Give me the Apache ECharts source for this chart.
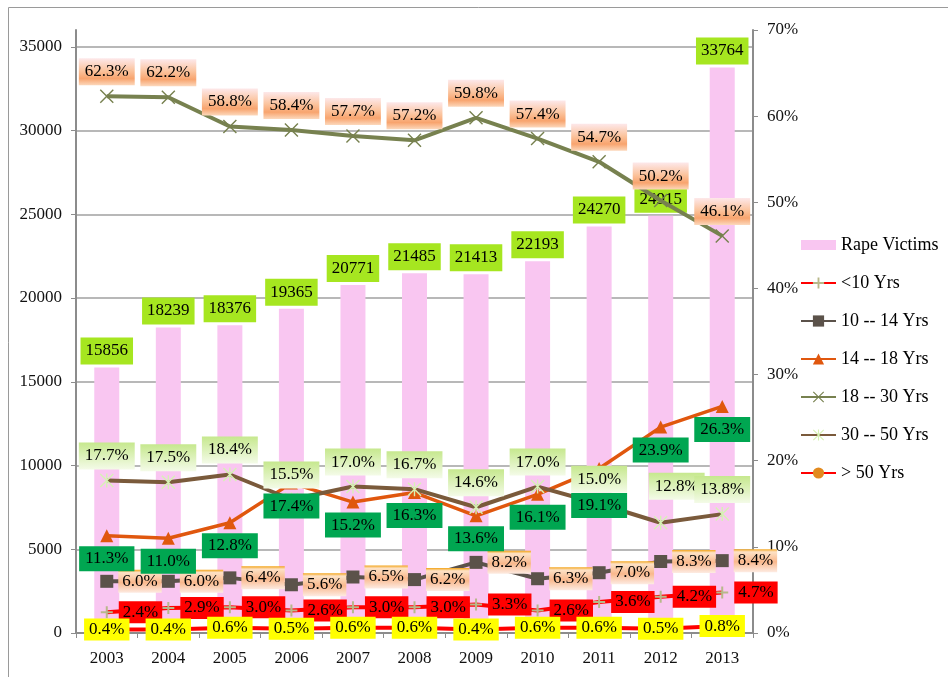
<!DOCTYPE html>
<html>
<head>
<meta charset="utf-8">
<style>
  html, body { margin: 0; padding: 0; background: #fff; }
  #chart-container { width: 948px; height: 677px; }
</style>
<script src="https://cdn.jsdelivr.net/npm/echarts@6/dist/echarts.min.js"></script>
</head>
<body>
<div id="chart-container"></div>
<script>
var years = ["2003", "2004", "2005", "2006", "2007", "2008", "2009", "2010", "2011", "2012", "2013"];
var rapeVictims = [15856, 18239, 18376, 19365, 20771, 21485, 21413, 22193, 24270, 24915, 33764];
var under10 = [2.4, 2.9, 3.0, 2.6, 3.0, 3.0, 3.3, 2.6, 3.6, 4.2, 4.7];
var age10to14 = [6.0, 6.0, 6.4, 5.6, 6.5, 6.2, 8.2, 6.3, 7.0, 8.3, 8.4];
var age14to18 = [11.3, 11.0, 12.8, 17.4, 15.2, 16.3, 13.6, 16.1, 19.1, 23.9, 26.3];
var age18to30 = [62.3, 62.2, 58.8, 58.4, 57.7, 57.2, 59.8, 57.4, 54.7, 50.2, 46.1];
var age30to50 = [17.7, 17.5, 18.4, 15.5, 17.0, 16.7, 14.6, 17.0, 15.0, 12.8, 13.8];
var over50 = [0.4, 0.4, 0.6, 0.5, 0.6, 0.6, 0.4, 0.6, 0.6, 0.5, 0.8];

var FONT = "'Liberation Serif', 'Times New Roman', serif";

// a few labels were nudged by hand in the original
function withOffsets(values, offsets) {
  return values.map(function (v, i) {
    return offsets[i] ? { value: v, label: { offset: offsets[i] } } : v;
  });
}

function pct(p) {
  return p.value.toFixed(1) + "%";
}

function grad(stops) {
  return new echarts.graphic.LinearGradient(0, 0, 0, 1, stops.map(function (s) {
    return { offset: s[0], color: s[1] };
  }));
}

var peachBg = grad([[0, "#fde8ea"], [0.45, "#fbc49e"], [0.75, "#f8a46e"], [1, "#fcd8bc"]]);
var peachTopBg = grad([[0, "#f3a51c"], [0.12, "#fde2c6"], [0.55, "#f9b88c"], [1, "#fdebe2"]]);
var lightGreenBg = grad([[0, "#c6e88e"], [1, "#f4fbe8"]]);

var plusSym = "path://M5,0H7V5H12V7H7V12H5V7H0V5H5Z";
var crossSym = "path://M0,1L1,0L7,6L13,0L14,1L8,7L14,13L13,14L7,8L1,14L0,13L6,7Z";
var starSym = "path://M6.3,0H7.7V14H6.3Z M0,1L1,0L14,13L13,14Z M13,0L14,1L1,14L0,13Z";

var gridColors = ["#a0a0a0", "#a0a0a0", "#a0a0a0", "#a0a0a0", "#a0a0a0", "#a0a0a0", "#a0a0a0", "#a0a0a0", "rgba(0,0,0,0)"];

var dom = document.getElementById("chart-container");
var myChart = echarts.init(dom, null, {
  renderer: "canvas",
  useDirtyRect: false,
});

var baseLabel = {
  show: true,
  color: "#000",
  fontFamily: FONT,
  fontSize: 17,
  formatter: pct,
};

var option = {
  animation: false,
  backgroundColor: "#fff",
  textStyle: { fontFamily: FONT },
  graphic: [
    {
      type: "rect",
      shape: { x: 8.5, y: 7.5, width: 960, height: 700 },
      style: { fill: "none", stroke: "#9a9a9a", lineWidth: 1 },
      silent: true,
    },
  ],
  grid: {
    left: 76,
    right: 195,
    top: 30,
    bottom: 44,
  },
  legend: {
    orient: "vertical",
    left: 795,
    top: 231,
    itemWidth: 35,
    itemHeight: 14,
    itemGap: 20,
    textStyle: { fontFamily: FONT, fontSize: 18, color: "#000" },
    data: [
      { name: "Rape Victims", icon: "path://M0,2H35V12H0Z" },
      "<10 Yrs",
      "10 -- 14 Yrs",
      "14 -- 18 Yrs",
      "18 -- 30 Yrs",
      "30 -- 50 Yrs",
      "> 50 Yrs",
    ],
  },
  xAxis: {
    type: "category",
    data: years,
    axisLine: { lineStyle: { color: "#8c8c8c", width: 2 } },
    axisTick: { show: true, length: 5, lineStyle: { color: "#8c8c8c" } },
    axisLabel: { color: "#111", fontFamily: FONT, fontSize: 17, margin: 17 },
  },
  yAxis: [
    {
      type: "value",
      min: 0,
      max: 36000,
      interval: 5000,
      axisLine: { show: true, lineStyle: { color: "#8c8c8c", width: 2 } },
      axisTick: { show: true, length: 5, lineStyle: { color: "#8c8c8c" } },
      axisLabel: {
        color: "#111",
        fontFamily: FONT,
        fontSize: 17,
        margin: 14,
        showMaxLabel: false,
        formatter: function (v) { return String(v); },
      },
      splitLine: { show: true, lineStyle: { color: gridColors, width: 1.5 } },
    },
    {
      type: "value",
      min: 0,
      max: 70,
      interval: 10,
      position: "right",
      axisLine: { show: true, lineStyle: { color: "#8c8c8c", width: 2 } },
      axisTick: { show: true, length: 5, lineStyle: { color: "#8c8c8c" } },
      axisLabel: { color: "#111", fontFamily: FONT, fontSize: 17, margin: 14, formatter: "{value}%" },
      splitLine: { show: false },
    },
  ],
  series: [
    {
      name: "Rape Victims",
      type: "bar",
      yAxisIndex: 0,
      barWidth: 25,
      itemStyle: { color: "#f9c6f1" },
      label: {
        show: true,
        position: "top",
        distance: 3,
        color: "#000",
        fontFamily: FONT,
        fontSize: 17,
        backgroundColor: "#a6e620",
        padding: [5, 5, 5, 5],
      },
      data: rapeVictims,
    },
    {
      name: "<10 Yrs",
      type: "line",
      yAxisIndex: 1,
      symbol: plusSym,
      symbolSize: 12,
      lineStyle: { color: "#ff0000", width: 4 },
      itemStyle: { color: "#b8b88a" },
      label: Object.assign({}, baseLabel, {
        position: "right",
        distance: 6,
        backgroundColor: "#ff0000",
        padding: [3, 4, 2, 4],
      }),
      data: under10,
    },
    {
      name: "10 -- 14 Yrs",
      type: "line",
      yAxisIndex: 1,
      symbol: "rect",
      symbolSize: 13,
      lineStyle: { color: "#5b524a", width: 4 },
      itemStyle: { color: "#5b524a" },
      label: Object.assign({}, baseLabel, {
        position: "right",
        distance: 5,
        backgroundColor: peachTopBg,
        padding: [3, 4, 3, 4],
      }),
      data: age10to14,
    },
    {
      name: "14 -- 18 Yrs",
      type: "line",
      yAxisIndex: 1,
      symbol: "triangle",
      symbolSize: 13,
      lineStyle: { color: "#e0570e", width: 3.5 },
      itemStyle: { color: "#e0570e" },
      label: Object.assign({}, baseLabel, {
        position: "bottom",
        distance: 4,
        backgroundColor: "#00a651",
        padding: [4, 6, 4, 6],
      }),
      data: withOffsets(age14to18, { 8: [0, 14] }),
    },
    {
      name: "18 -- 30 Yrs",
      type: "line",
      yAxisIndex: 1,
      symbol: crossSym,
      symbolSize: 14,
      lineStyle: { color: "#77814f", width: 4 },
      itemStyle: { color: "#77814f" },
      label: Object.assign({}, baseLabel, {
        position: "top",
        distance: 4,
        backgroundColor: peachBg,
        padding: [5, 6, 5, 6],
      }),
      data: age18to30,
    },
    {
      name: "30 -- 50 Yrs",
      type: "line",
      yAxisIndex: 1,
      symbol: starSym,
      symbolSize: 14,
      lineStyle: { color: "#7a5a3b", width: 4 },
      itemStyle: { color: "#d6f2b4" },
      label: Object.assign({}, baseLabel, {
        position: "top",
        distance: 4,
        backgroundColor: lightGreenBg,
        padding: [5, 6, 5, 6],
      }),
      data: withOffsets(age30to50, { 9: [16, -12] }),
    },
    {
      name: "> 50 Yrs",
      type: "line",
      yAxisIndex: 1,
      symbol: "circle",
      symbolSize: 10,
      lineStyle: { color: "#ff0000", width: 4 },
      itemStyle: { color: "#e28a1f" },
      label: Object.assign({}, baseLabel, {
        position: "inside",
        backgroundColor: "#ffff00",
        padding: [3, 5, 2, 5],
      }),
      data: over50,
    },
  ],
};

if (option && typeof option === "object") {
  myChart.setOption(option);
}

window.addEventListener("resize", myChart.resize);
</script>
</body>
</html>
